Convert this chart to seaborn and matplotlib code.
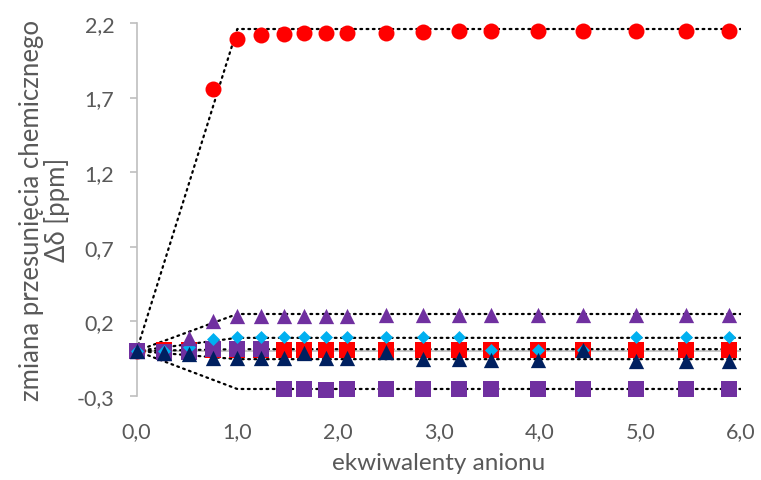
import numpy as np
import pandas as pd
import matplotlib
matplotlib.use("Agg")
import matplotlib.pyplot as plt
import seaborn as sns

nan = np.nan

# Titration points: equivalents of anion added
equiv = [0.00, 0.27, 0.52, 0.76, 1.00, 1.24, 1.46, 1.66, 1.88, 2.09,
         2.48, 2.84, 3.20, 3.52, 3.99, 4.43, 4.96, 5.45, 5.88]

# Chemical shift changes (ppm) for each tracked signal
red_circles = [0.0, nan, nan, 1.76, 2.09, 2.12, 2.125, 2.13, 2.13, 2.13,
               2.135, 2.143, 2.145, 2.145, 2.145, 2.145, 2.15, 2.15, 2.15]
red_squares = [0.0, 0.008, 0.005, 0.005, 0.005, 0.005, 0.008, 0.008, 0.008, 0.008,
               0.008, 0.008, 0.008, 0.008, 0.008, 0.008, 0.008, 0.008, 0.008]
purple_squares = [0.0, -0.007, -0.01, 0.013, 0.013, 0.013, -0.255, -0.255, -0.26, -0.255,
                  -0.255, -0.255, -0.255, -0.255, -0.255, -0.255, -0.255, -0.255, -0.255]
blue_diamonds = [0.0, 0.0, 0.025, 0.08, 0.092, 0.093, 0.093, 0.093, 0.093, 0.093,
                 0.093, 0.093, 0.092, 0.007, 0.007, 0.005, 0.092, 0.092, 0.092]
purple_triangles = [0.0, -0.012, 0.085, 0.198, 0.233, 0.237, 0.237, 0.237, 0.237, 0.237,
                    0.238, 0.238, 0.24, 0.24, 0.24, 0.24, 0.24, 0.24, 0.24]
navy_triangles = [0.0, -0.012, -0.018, -0.045, -0.047, -0.045, -0.045, -0.015, -0.045, -0.045,
                  -0.01, -0.054, -0.056, -0.058, -0.058, 0.005, -0.067, -0.067, -0.068]

# 1:1 binding model curves (break points)
fit_x = [0.0, 1.0, 6.0]
fit_red_circles = [0.0, 2.16, 2.16]
fit_red_squares = [0.0, 0.012, 0.012]
fit_purple_squares = [0.0, -0.255, -0.255]
fit_blue_diamonds = [0.0, 0.088, 0.088]
fit_purple_triangles = [0.0, 0.248, 0.248]
fit_navy_triangles = [0.0, -0.055, -0.055]

x_ticks = [0, 1, 2, 3, 4, 5, 6]
x_tick_labels = ["0,0", "1,0", "2,0", "3,0", "4,0", "5,0", "6,0"]
y_ticks = [-0.3, 0.2, 0.7, 1.2, 1.7, 2.2]
y_tick_labels = ["-0,3", "0,2", "0,7", "1,2", "1,7", "2,2"]

sns.set_theme(style="white")
plt.rcParams["font.family"] = ["Lato", "DejaVu Sans"]
text_color = "#595959"
axis_color = "#BFBFBF"

fig = plt.figure(figsize=(7.61, 4.81), dpi=100)
ax = fig.add_axes([0.1794, 0.1753, 0.7943, 0.7747])

# Model curves, dotted black
fits = [fit_red_circles, fit_red_squares, fit_purple_squares,
        fit_blue_diamonds, fit_purple_triangles, fit_navy_triangles]
for f in fits:
    sns.lineplot(x=fit_x, y=f, ax=ax, color="black", linewidth=1.6,
                 linestyle=(0, (0.8, 2.0)), dash_capstyle="round",
                 sort=False, estimator=None, zorder=2)

ax.axhline(0, color=axis_color, linewidth=1.2, zorder=1)

series = [
    (red_circles, "o", "#FF0000", 11.5),
    (red_squares, "s", "#FF0000", 11.0),
    (purple_squares, "s", "#7030A0", 11.0),
    (blue_diamonds, "D", "#00B0F0", 6.6),
    (purple_triangles, "^", "#7030A0", 11.0),
    (navy_triangles, "^", "#002060", 11.0),
]
for i, (vals, mk, col, ms) in enumerate(series):
    df = pd.DataFrame({"x": equiv, "y": vals}).dropna()
    sns.scatterplot(data=df, x="x", y="y", ax=ax, marker=mk, color=col,
                    s=ms ** 2, linewidth=0, zorder=3 + i, clip_on=False)

ax.set_xlim(0, 6)
ax.set_ylim(-0.3, 2.2)
ax.set_xticks(x_ticks)
ax.set_xticklabels(x_tick_labels)
ax.set_yticks(y_ticks)
ax.set_yticklabels(y_tick_labels)

for side in ["top", "right", "bottom"]:
    ax.spines[side].set_visible(False)
ax.spines["left"].set_color(axis_color)
ax.spines["left"].set_linewidth(1.2)

ax.tick_params(axis="y", which="major", direction="out", length=5,
               width=1.2, color=axis_color, labelcolor=text_color,
               labelsize=15.5, pad=11, left=True)
ax.tick_params(axis="x", which="major", length=0, labelcolor=text_color,
               labelsize=15.5, pad=18)

ax.set_xlabel("ekwiwalenty anionu", fontsize=17.5, color=text_color)
ax.set_ylabel("zmiana przesunięcia chemicznego\nΔδ [ppm]", fontsize=18.5,
              color=text_color, linespacing=1.0)
ax.xaxis.set_label_coords(0.5, -0.15)
ax.yaxis.set_label_coords(-0.11, 0.5)
ax.grid(False)

fig.savefig("out.png", dpi=100)
